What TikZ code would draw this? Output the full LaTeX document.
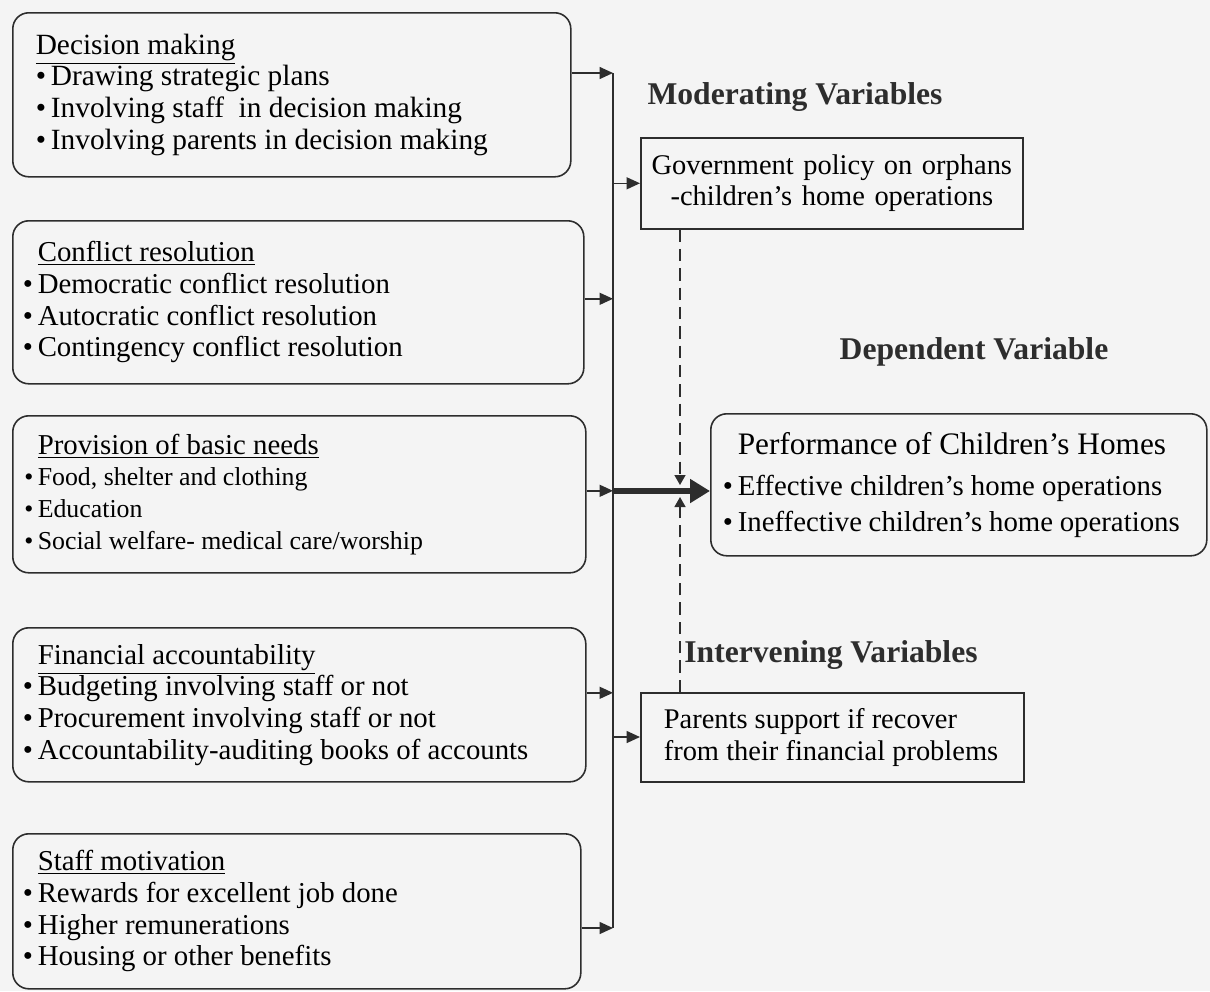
\documentclass[tikz,border=0pt]{standalone}
\usepackage{fontspec}
\setmainfont{Liberation Serif}
\usetikzlibrary{arrows.meta}
\definecolor{paper}{RGB}{244,244,244}
\definecolor{ink}{RGB}{45,45,45}
\newcommand{\hb}{\leavevmode\llap{\textbullet\,}}
\begin{document}
\begin{tikzpicture}[
  varbox/.style={draw=ink,line width=0.9pt,rounded corners=0.32cm,anchor=north west,align=flush left,inner xsep=0.5cm,inner ysep=0pt,font=\fontsize{16.4}{18}\selectfont},
  sqbox/.style={draw=ink,line width=0.9pt,anchor=north west,inner ysep=0pt,font=\fontsize{16.2}{18}\selectfont},
  head/.style={font=\bfseries\fontsize{18}{20}\selectfont,text=ink},
  arr/.style={draw=ink,line width=0.9pt,-{Triangle[length=0.27cm,width=0.24cm]}},
  dasharr/.style={draw=ink,line width=0.8pt,dash pattern=on 7pt off 4pt,-{Triangle[length=0.2cm,width=0.22cm]}},
]
\useasboundingbox (0,0) rectangle (24.2,-19.82);
\fill[paper] (0,0) rectangle (24.2,-19.82);

% independent variables
\node[varbox,inner xsep=0.46cm,text width=10.24cm,minimum height=3.28cm,font=\fontsize{16.7}{18}\selectfont] (dm) at (0.24,-0.24) {\underline{Decision making}\\
\textbullet\,Drawing strategic plans\\
\textbullet\,Involving staff\ \ in decision making\\
\textbullet\,Involving parents in decision making};
\node[varbox,text width=10.42cm,minimum height=3.26cm] (cr) at (0.24,-4.4) {\underline{Conflict resolution}\\
\hb Democratic conflict resolution\\
\hb Autocratic conflict resolution\\
\hb Contingency conflict resolution};
\node[varbox,text width=10.46cm,minimum height=3.14cm] (bn) at (0.24,-8.3) {\underline{Provision of basic needs}\\
{\fontsize{14.7}{18}\selectfont\hb Food, shelter and clothing\\
\hb Education\\
\hb Social welfare- medical care/worship}};
\node[varbox,text width=10.46cm,minimum height=3.08cm] (fa) at (0.24,-12.54) {\underline{Financial accountability}\\
\hb Budgeting involving staff or not\\
\hb Procurement involving staff or not\\
\hb Accountability-auditing books of accounts};
\node[varbox,text width=10.36cm,minimum height=3.1cm] (sm) at (0.24,-16.66) {\underline{Staff motivation}\\
\hb Rewards for excellent job done\\
\hb Higher remunerations\\
\hb Housing or other benefits};

% moderating, dependent and intervening variables
\node[sqbox,align=center,text width=7.44cm,inner xsep=0.1cm,minimum height=1.82cm] (gov) at (12.8,-2.74) {Government policy on orphans\\-children's home operations};
\node[sqbox,align=flush left,text width=6.74cm,inner xsep=0.46cm,minimum height=1.78cm] (par) at (12.8,-13.84) {Parents support if recover\\from their financial problems};
\node[varbox,inner xsep=0.54cm,text width=8.84cm,minimum height=2.84cm,font=\fontsize{16.4}{20.4}\selectfont] (perf) at (14.2,-8.26) {{\fontsize{17.8}{20}\selectfont Performance of Children's Homes}\\[0.1cm]
\hb Effective children's home operations\\
\hb Ineffective children's home operations};

\node[head] (modlab) at (15.9,-1.94) {Moderating Variables};
\node[head] (deplab) at (19.48,-7.04) {Dependent Variable};
\node[head] (intlab) at (16.62,-13.1) {Intervening Variables};

% bus line and arrows
\coordinate (bustop) at (12.26,-1.46);
\coordinate (busbot) at (12.26,-18.56);
\coordinate (meet) at (13.6,-9.82);
\draw[draw=ink,line width=0.9pt] (bustop) -- (busbot);
\draw[arr] (dm.east |- bustop) -- (bustop);
\draw[arr] ([yshift=0.07cm]cr.east) -- ([yshift=0.07cm]cr.east -| bustop);
\draw[arr] ([yshift=0.07cm]bn.east) -- ([yshift=0.07cm]bn.east -| bustop);
\draw[arr] ([yshift=0.24cm]fa.east) -- ([yshift=0.24cm]fa.east -| bustop);
\draw[arr] (sm.east |- busbot) -- (busbot);
\draw[arr] (bustop |- gov.west) -- (gov.west);
\draw[arr] (bustop |- 0,-14.74) -- (par.west |- 0,-14.74);
\draw[draw=ink,line width=3.2pt,-{Triangle[length=0.4cm,width=0.46cm]}] (bustop |- meet) -- (perf.west |- meet);
\draw[dasharr] (gov.south -| meet) -- ([yshift=0.12cm]meet);
\draw[dasharr] (par.north -| meet) -- ([yshift=-0.12cm]meet);
\end{tikzpicture}
\end{document}
